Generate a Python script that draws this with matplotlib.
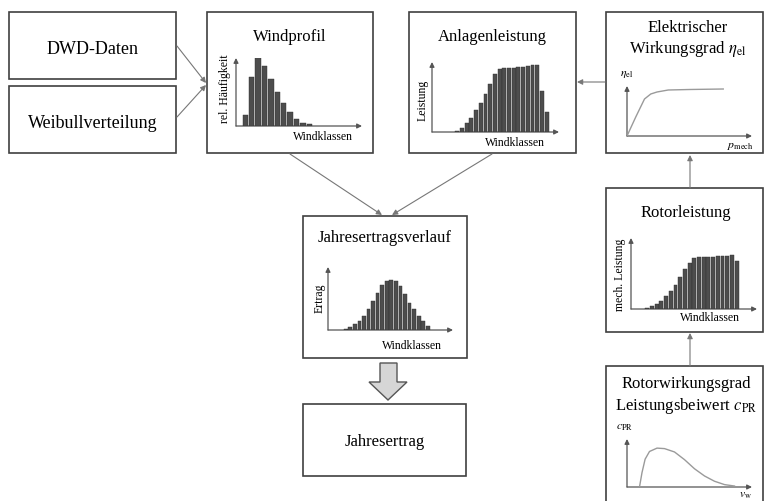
import matplotlib.pyplot as plt
from matplotlib.patches import Rectangle, Polygon
import numpy as np

plt.rcParams['font.family'] = ['Liberation Serif', 'DejaVu Serif']
plt.rcParams['mathtext.fontset'] = 'stix'

W, H = 766, 502

# bar heights of the small diagrams (relative values)
windprofil = [11, 49, 69, 60, 47, 34, 23, 14, 7, 3.5, 1.7]
anlagenleistung = [1.3, 4.3, 8.7, 14.3, 21.7, 29.3, 38.3, 48.3, 57.7, 62.7,
                   63.7, 64, 64.3, 64.7, 65, 66, 66.7, 66.7, 41, 20]
rotorleistung = [1, 2.7, 5, 7.7, 12.7, 18.3, 24.3, 31.7, 40, 46,
                 51, 51.7, 52, 52.3, 52.3, 52.7, 52.7, 53.3, 54, 48.3]
jahresertrag = [1.3, 3.3, 5.7, 9, 14, 20.7, 29, 37.3, 44.7, 49,
                49.7, 49, 44, 35.7, 27.3, 20.7, 14, 9, 4]

# curves (x, y) in relative units
eta_x = [0, 0.07, 0.14, 0.19, 0.24, 0.33, 0.5, 0.77]
eta_y = [0, 0.38, 0.74, 0.84, 0.88, 0.92, 0.93, 0.94]
cp_x = [0.10, 0.12, 0.145, 0.18, 0.24, 0.30, 0.38, 0.46, 0.54, 0.62, 0.70, 0.78, 0.86]
cp_y = [0, 0.3, 0.58, 0.74, 0.81, 0.80, 0.73, 0.57, 0.38, 0.23, 0.12, 0.05, 0.02]

fig = plt.figure(figsize=(W / 100, H / 100), dpi=100)
ax = fig.add_axes([0, 0, 1, 1])
ax.set_xlim(0, W)
ax.set_ylim(H, 0)
ax.axis('off')

edge = '#404040'
line_c = '#777777'


def box(x0, y0, x1, y1):
    ax.add_patch(Rectangle((x0, y0), x1 - x0, y1 - y0, facecolor='white',
                           edgecolor=edge, lw=1.2, zorder=2))


def arrow(x0, y0, x1, y1, c=line_c, lw=0.8, ms=8):
    ax.annotate('', xy=(x1, y1), xytext=(x0, y0),
                arrowprops=dict(arrowstyle='-|>', color=c, lw=lw,
                                mutation_scale=ms, shrinkA=0, shrinkB=0),
                zorder=3)


def mini_axes(x0, ybase, x1, ytop):
    # axis arrows
    arrow(x0, ybase, x1, ybase, c='#555555', lw=0.9, ms=7)
    arrow(x0, ybase, x0, ytop, c='#555555', lw=0.9, ms=7)
    a = fig.add_axes([x0 / W, 1 - ybase / H, (x1 - x0) / W, (ybase - ytop) / H])
    a.axis('off')
    a.patch.set_alpha(0)
    return a


def bar_chart(vals, x0, ybase, x1, ytop, c0, pitch):
    a = mini_axes(x0, ybase, x1, ytop)
    idx = np.arange(len(vals))
    a.bar(idx, vals, width=0.82, color='#4d4d4d', edgecolor='#2e2e2e', lw=0.3)
    a.set_xlim((x0 - c0) / pitch, (x1 - c0) / pitch)
    a.set_ylim(0, ybase - ytop)
    return a


# boxes
box(9, 13, 176, 80)
box(9, 87, 176, 154)
box(207, 13, 373, 154)
box(409, 13, 576, 154)
box(606, 13, 763, 154)
box(606, 189, 763, 333)
box(606, 367, 763, 515)
box(303, 217, 467, 359)
box(303, 405, 466, 477)

# connectors
arrow(177, 47, 206, 84)
arrow(177, 118, 206, 86)
arrow(290, 155, 382, 216)
arrow(492, 155, 392, 216)
arrow(605, 83, 577, 83)
arrow(690, 189, 690, 156)
arrow(690, 367, 690, 334)

# big hollow arrow
ax.add_patch(Polygon([(380, 364), (397, 364), (397, 383), (407, 383), (388, 401),
                      (369, 383), (380, 383)], closed=True,
                     facecolor='#d6d6d6', edgecolor='#555555', lw=1.0, zorder=3))

# box texts
tk = dict(ha='center', va='center', zorder=4)
ax.text(92.5, 49, 'DWD-Daten', fontsize=13, **tk)
ax.text(92.5, 123, 'Weibullverteilung', fontsize=13, **tk)
ax.text(290, 37, 'Windprofil', fontsize=12, **tk)
ax.text(492, 37, 'Anlagenleistung', fontsize=12, **tk)
ax.text(688, 28, 'Elektrischer', fontsize=12, **tk)
ax.text(688, 49, r'Wirkungsgrad $\eta_\mathrm{el}$', fontsize=12, **tk)
ax.text(686, 213, 'Rotorleistung', fontsize=12, **tk)
ax.text(686, 384, 'Rotorwirkungsgrad', fontsize=12, **tk)
ax.text(686, 406, r'Leistungsbeiwert $c_\mathrm{PR}$', fontsize=12, **tk)
ax.text(385, 238, 'Jahresertragsverlauf', fontsize=12, **tk)
ax.text(385, 442, 'Jahresertrag', fontsize=12, **tk)

# small labels
sm = dict(ha='center', va='center', fontsize=8.5, zorder=4)
ax.text(323, 137, 'Windklassen', **sm)
ax.text(225, 89, 'rel. Häufigkeit', rotation=90, **sm)
ax.text(515, 143, 'Windklassen', **sm)
ax.text(423, 100, 'Leistung', rotation=90, **sm)
ax.text(710, 318, 'Windklassen', **sm)
ax.text(620, 275, 'mech. Leistung', rotation=90, **sm)
ax.text(412, 346, 'Windklassen', **sm)
ax.text(320, 298, 'Ertrag', rotation=90, **sm)
ax.text(627, 74, r'$\eta_\mathrm{el}$', **sm)
ax.text(740, 146, r'$p_\mathrm{mech}$', **sm)
ax.text(625, 427, r'$c_\mathrm{PR}$', **sm)
ax.text(745, 495, r'$v_\mathrm{w}$', **sm)

# bar diagrams
bar_chart(windprofil, 236, 127, 362, 59, 245.3, 6.4)
bar_chart(anlagenleistung, 432, 133, 559, 63, 457.3, 4.7)
bar_chart(rotorleistung, 631, 310, 757, 239, 647.3, 4.7)
bar_chart(jahresertrag, 328, 331, 453, 268, 345.7, 4.56)

# curve diagrams
a = mini_axes(627, 137, 752, 87)
a.plot(eta_x, eta_y, color='#9a9a9a', lw=1.0)
a.set_xlim(0, 1.0)
a.set_ylim(0, 1.0)

a = mini_axes(627, 488, 752, 440)
a.plot(cp_x, cp_y, color='#9a9a9a', lw=1.0)
a.set_xlim(0, 1.0)
a.set_ylim(0, 1.0)

fig.savefig('out.png', dpi=100)
